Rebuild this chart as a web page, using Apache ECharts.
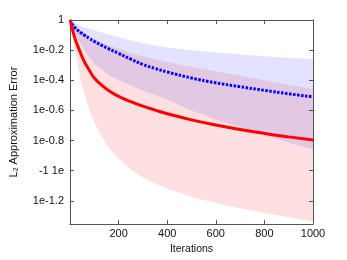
<!DOCTYPE html>
<html><head><meta charset="utf-8">
<script src="https://cdn.jsdelivr.net/npm/echarts@6/dist/echarts.min.js"></script>
<style>html,body{margin:0;padding:0;background:#fff}#c{width:347px;height:260px}</style>
</head><body><div id="c"></div>
<script>
// log10 of L2 approximation error at sampled iterations
const iterations = [1,10,20,30,45,60,80,100,130,160,200,250,300,350,400,500,600,700,800,900,1000];
const redMean  = [0,-0.06,-0.12,-0.165,-0.225,-0.28,-0.335,-0.385,-0.432,-0.47,-0.507,-0.542,-0.572,-0.598,-0.622,-0.663,-0.697,-0.727,-0.753,-0.776,-0.797];
const redUpper = [0,-0.01,-0.03,-0.05,-0.07,-0.09,-0.11,-0.13,-0.15,-0.17,-0.19,-0.22,-0.24,-0.26,-0.28,-0.31,-0.34,-0.37,-0.4,-0.43,-0.46];
const redLower = [0,-0.1,-0.2,-0.29,-0.4,-0.5,-0.6,-0.68,-0.77,-0.85,-0.92,-0.995,-1.045,-1.085,-1.12,-1.175,-1.215,-1.25,-1.28,-1.31,-1.34];
const blueMean  = [0,-0.03,-0.05,-0.066,-0.085,-0.102,-0.123,-0.142,-0.168,-0.192,-0.222,-0.26,-0.295,-0.322,-0.345,-0.385,-0.417,-0.443,-0.467,-0.49,-0.51];
const blueUpper = [0,-0.01,-0.02,-0.03,-0.04,-0.048,-0.058,-0.068,-0.083,-0.097,-0.114,-0.135,-0.155,-0.17,-0.182,-0.2,-0.215,-0.228,-0.24,-0.25,-0.26];
const blueLower = [0,-0.04,-0.08,-0.12,-0.16,-0.2,-0.25,-0.29,-0.33,-0.365,-0.4,-0.435,-0.47,-0.5,-0.53,-0.6,-0.66,-0.71,-0.765,-0.815,-0.86];
const yTicks = [0,-0.2,-0.4,-0.6,-0.8,-1,-1.2];
const yTickLabels = ['1','1e-0.2','1e-0.4','1e-0.6','1e-0.8','-1 1e','1e-1.2'];
const xTicks = [200,400,600,800,1000];

const pair = (ys) => iterations.map((x,i)=>[x, ys[i]]);
const bandData = (up, lo) => iterations.map((x,i)=>[x, up[i], lo[i]]);

function bandSeries(up, lo, color) {
  return {
    type: 'custom', silent: true, z: 1,
    data: bandData(up, lo),
    encode: {x: 0, y: [1, 2]},
    renderItem: (params, api) => {
      if (params.dataIndex !== 0) return null;
      const top = iterations.map((x,i)=>api.coord([x, up[i]]));
      const bot = iterations.map((x,i)=>api.coord([x, lo[i]])).reverse();
      return {type: 'polygon', shape: {points: top.concat(bot), smooth: 0}, style: {fill: color}};
    }
  };
}

const axisCol = '#555';
const font = 'Liberation Sans, Arial, sans-serif';
const chart = echarts.init(document.getElementById('c'));
chart.setOption({
  animation: false,
  grid: {left: 61, right: 34, top: 20, bottom: 31},
  xAxis: [{
    type: 'value', min: 0, max: 1000,
    axisLine: {onZero: false, lineStyle: {color: axisCol}},
    axisTick: {inside: true, length: 4, customValues: xTicks, lineStyle: {color: axisCol}},
    axisLabel: {customValues: xTicks, color: '#111', fontSize: 11, fontFamily: font, margin: 4, formatter: (v) => String(v)},
    splitLine: {show: false},
    name: 'Iterations', nameLocation: 'middle', nameGap: 13,
    nameTextStyle: {color: '#111', fontSize: 10.5, fontFamily: font}
  },{
    type: 'value', min: 0, max: 1000, position: 'top',
    axisLine: {show: true, onZero: false, lineStyle: {color: axisCol}},
    axisTick: {inside: true, length: 4, customValues: xTicks, lineStyle: {color: axisCol}},
    axisLabel: {show: false}, splitLine: {show: false}
  }],
  yAxis: [{
    type: 'value', min: -1.355, max: 0,
    axisLine: {show: true, onZero: false, lineStyle: {color: axisCol}},
    axisTick: {inside: true, length: 4, customValues: yTicks, lineStyle: {color: axisCol}},
    axisLabel: {customValues: yTicks, color: '#111', fontSize: 11, fontFamily: font, margin: 6,
      formatter: (v) => { const i = yTicks.findIndex(t => Math.abs(t - v) < 1e-6); return i >= 0 ? yTickLabels[i] : ''; }},
    splitLine: {show: false},
    name: '{a|L}{s|2}{a| Approximation Error}', nameLocation: 'middle', nameGap: 50, nameRotate: 90,
    nameTextStyle: {color: '#111', fontFamily: font,
      rich: {a: {fontSize: 11, fontFamily: font, color: '#111'}, s: {fontSize: 7, fontFamily: font, color: '#111', verticalAlign: 'bottom', padding: [6,0,0,0]}}}
  },{
    type: 'value', min: -1.355, max: 0, position: 'right',
    axisLine: {show: true, onZero: false, lineStyle: {color: axisCol}},
    axisTick: {inside: true, length: 4, customValues: yTicks, lineStyle: {color: axisCol}},
    axisLabel: {show: false}, splitLine: {show: false}
  }],
  series: [
    bandSeries(redUpper, redLower, 'rgba(255,0,0,0.12)'),
    bandSeries(blueUpper, blueLower, 'rgba(0,0,255,0.11)'),
    {type: 'line', z: 3, data: pair(blueMean), symbol: 'none', smooth: 0.5, lineStyle: {color: '#0000ff', width: 3, type: [2.5, 1.5]}},
    {type: 'line', z: 4, data: pair(redMean), symbol: 'none', smooth: 0.5, lineStyle: {color: '#ff0000', width: 3}}
  ]
});
</script></body></html>
